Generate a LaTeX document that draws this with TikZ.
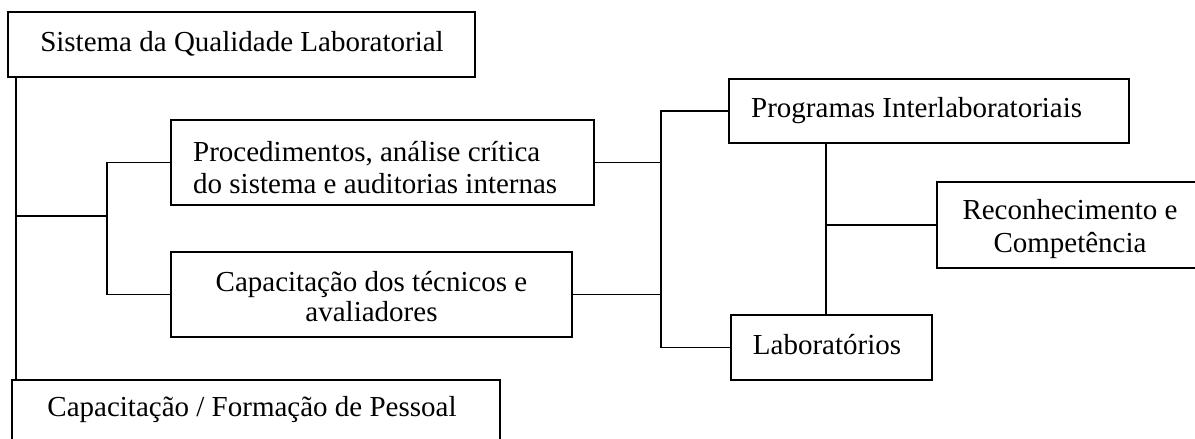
\documentclass[tikz,border=0pt]{standalone}
\usepackage{fontspec}
\setmainfont{Liberation Serif}
\tikzset{
  box/.style={draw=black, line width=1.8pt, inner sep=0pt, rectangle},
  txt/.style={inner sep=0pt, font=\fontsize{29}{33}\selectfont, text=black},
  conn/.style={draw=black, line width=1.8pt}
}
\begin{document}
\begin{tikzpicture}[x=1pt,y=-1pt]
\useasboundingbox (0,0) rectangle (1195,439);
% boxes
\node[box, minimum width=467pt, minimum height=65pt] (sq) at (241.5,44.5) {};
\node[box, minimum width=423pt, minimum height=85pt] (proc) at (382.5,162.5) {};
\node[box, minimum width=401pt, minimum height=85pt] (capt) at (371.5,294.5) {};
\node[box, minimum width=488pt, minimum height=80pt] (form) at (256,420) {};
\node[box, minimum width=400pt, minimum height=64pt] (prog) at (929,111) {};
\node[box, minimum width=201pt, minimum height=65pt] (lab) at (831.5,347.5) {};
\node[box, minimum width=260pt, minimum height=86pt] (rec) at (1067,225) {};
% texts
\node[txt, anchor=base] (sq-t) at (242,51) {Sistema da Qualidade Laboratorial};
\node[txt, anchor=base west] (proc-t1) at (193,161) {Procedimentos, análise crítica};
\node[txt, anchor=base west] (proc-t2) at (193,193) {do sistema e auditorias internas};
\node[txt, anchor=base] (capt-t1) at (371.5,291) {Capacitação dos técnicos e};
\node[txt, anchor=base] (capt-t2) at (371.5,321) {avaliadores};
\node[txt, anchor=base] (form-t) at (252,416) {Capacitação / Formação de Pessoal};
\node[txt, anchor=base west] (prog-t) at (751,117) {Programas Interlaboratoriais};
\node[txt, anchor=base] (lab-t) at (827,354) {Laboratórios};
\node[txt, anchor=base] (rec-t1) at (1070,219) {Reconhecimento e};
\node[txt, anchor=base] (rec-t2) at (1070,252) {Competência};
% junction coordinates
\coordinate (trunk) at (16,216);
\coordinate (b1) at (107,216);
\coordinate (b2) at (661,230);
\coordinate (b3) at (826,227);
% connectors
\draw[conn] (sq.south -| trunk) -- (form.north -| trunk);
\draw[conn] (trunk) -- (b1);
\draw[conn] (proc.west) -- (proc.west -| b1) -- (capt.west -| b1) -- (capt.west);
\draw[conn] (proc.east) -- (proc.east -| b2);
\draw[conn] (capt.east) -- (capt.east -| b2);
\draw[conn] (prog.west) -- (prog.west -| b2) -- (lab.west -| b2) -- (lab.west);
\draw[conn] (prog.south -| b3) -- (lab.north -| b3);
\draw[conn] (rec.west -| b3) -- (rec.west);
\end{tikzpicture}
\end{document}
